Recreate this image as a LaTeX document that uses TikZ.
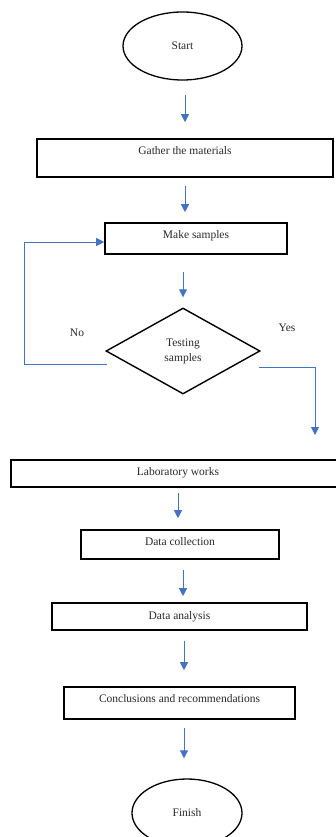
\documentclass[tikz,border=0pt]{standalone}
\usepackage{fontspec}
\setmainfont{Liberation Serif}
\usepackage{xcolor}
\definecolor{flowblue}{RGB}{68, 114, 196}
\definecolor{textgray}{RGB}{40, 40, 40}
\usetikzlibrary{arrows.meta, positioning, shapes.geometric, calc}

\begin{document}
\begin{tikzpicture}[
    x=1pt, y=-1pt,
    font=\fontsize{11.5}{15}\selectfont,
    every node/.style={text=textgray},
    terminal/.style={ellipse, draw=black, line width=1.3pt, inner sep=0pt},
    stage/.style={draw=black, line width=1.6pt, inner sep=0pt, text height=8pt, text depth=#1},
    stage/.default=2pt,
    decision/.style={diamond, draw=black, line width=1.4pt, inner sep=0pt, align=center},
    flow/.style={draw=flowblue, line width=0.9pt, -{Triangle[width=8pt, length=8pt]}}
]
\useasboundingbox (0,0) rectangle (336,837);

% Inicio y fin
\node[terminal, minimum width=119pt, minimum height=68pt] (start) at (182.5, 46) {Start};
\node[terminal, minimum width=110pt, minimum height=68pt] (finish) at (187, 813) {Finish};

% Etapas
\node[stage=14pt, minimum width=296pt, minimum height=38pt] (gather) at (185, 158) {Gather the materials};
\node[stage=9pt, minimum width=182pt, minimum height=31pt] (samples) at (196, 238.5) {Make samples};
\node[stage=5pt, minimum width=334pt, minimum height=27pt] (lab) at (178, 473.5) {Laboratory works};
\node[stage=7pt, minimum width=198pt, minimum height=29pt] (datacol) at (180, 544.5) {Data collection};
\node[stage=3pt, minimum width=255pt, minimum height=27pt] (analysis) at (179.5, 616.5) {Data analysis};
\node[stage=10pt, minimum width=231pt, minimum height=32pt] (concl) at (179.5, 703) {Conclusions and recommendations};

% Prueba
\node[decision, minimum width=154pt, minimum height=86pt] (test) at (183, 351) {Testing\\samples};
\node (no) at (77, 333) {No};
\node (yes) at (287, 328) {Yes};
\coordinate (yesend) at (315, 435);

% Flechas
\draw[flow, shorten <=14pt, shorten >=16pt] (gather.north |- start.south) -- (gather.north);
\draw[flow, shorten <=8pt, shorten >=10pt] (gather.south) -- (gather.south |- samples.north);
\draw[flow, shorten <=17pt, shorten >=10pt] (samples.south -| test.north) -- (test.north);
\draw[flow] ([xshift=2pt, yshift=-13pt]test.west) -- ++(-83pt, 0) |- ([yshift=-3.5pt]samples.west);
\draw[flow] ([xshift=-2pt, yshift=-16pt]test.east) -| (yesend);
\draw[flow, shorten <=5pt, shorten >=11pt] (lab.south) -- (lab.south |- datacol.north);
\draw[flow, shorten <=10pt, shorten >=6pt] ([xshift=3pt]datacol.south) -- ([xshift=3pt]datacol.south |- analysis.north);
\draw[flow, shorten <=10pt, shorten >=16pt] ([xshift=4.5pt]analysis.south) -- ([xshift=4.5pt]analysis.south |- concl.north);
\draw[flow, shorten <=8pt, shorten >=20pt] ([xshift=4.5pt]concl.south) -- ([xshift=4.5pt]concl.south |- finish.north);

\end{tikzpicture}
\end{document}
